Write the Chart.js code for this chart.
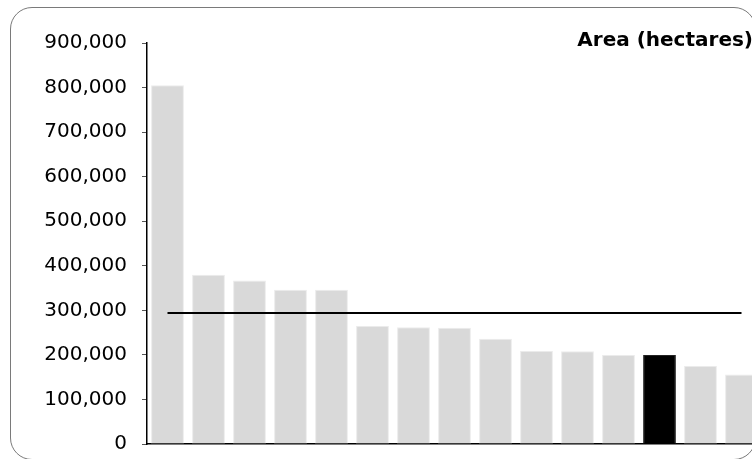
<!DOCTYPE html>
<html>
<head>
<meta charset="utf-8">
<script src="https://cdn.jsdelivr.net/npm/chart.js@4"></script>
<style>
  html, body { margin: 0; padding: 0; background: #fff; overflow: hidden; width: 752px; height: 459px; }
  #frame {
    position: absolute; left: 10px; top: 7px; width: 746px; height: 453px;
    border: 1px solid #7a7a7a; border-radius: 22px; box-sizing: border-box;
  }
  #wrap { position: absolute; left: 0; top: 0; width: 770px; height: 471px; }
</style>
</head>
<body>
<div id="frame"></div>
<div id="wrap"><canvas id="chartArea" width="770" height="471"></canvas></div>
<script>
// values
const categories = ["1", "2", "3", "4", "5", "6", "7", "8", "9", "10", "11", "12", "13", "14", "15"];
const areaValues = [805000, 380000, 367000, 346000, 346000, 265000, 262000, 261000, 236000, 209000, 208000, 200000, 200000, 175000, 156000];
const highlightIndex = 12;
const averageValue = 294000;
const yTicks = [0, 100000, 200000, 300000, 400000, 500000, 600000, 700000, 800000, 900000];
const chartTitle = "Area (hectares)";

const barColors = areaValues.map((v, i) => (i == highlightIndex ? "#000000" : "#d9d9d9"));
const barBorders = areaValues.map((v, i) => (i == highlightIndex ? "#222222" : "#ebebeb"));

const titlePlugin = {
  id: "cornerTitle",
  afterDraw: function (chart) {
    let ctx = chart.ctx;
    ctx.save();
    ctx.font = "bold 20px 'DejaVu Sans'";
    ctx.fillStyle = "#000";
    ctx.textAlign = "right";
    ctx.textBaseline = "alphabetic";
    ctx.fillText(chartTitle, 753, 45.5);
    ctx.restore();
  },
};

var ch = document.getElementById("chartArea");
var chart = new Chart(ch, {
  type: "bar",
  data: {
    labels: categories,
    datasets: [
      {
        type: "line",
        data: [
          { x: categories[0], y: averageValue },
          { x: categories[categories.length - 1], y: averageValue },
        ],
        borderColor: "#000",
        borderWidth: 2,
        pointRadius: 0,
        order: 0,
      },
      {
        data: areaValues,
        backgroundColor: barColors,
        borderColor: barBorders,
        borderWidth: 1,
        barPercentage: 0.8,
        categoryPercentage: 1,
        order: 1,
      },
    ],
  },
  options: {
    responsive: false,
    animation: false,
    devicePixelRatio: 1,
    layout: { padding: { left: 0, right: 8, top: 43, bottom: 4 } },
    plugins: { legend: { display: false }, tooltip: { enabled: false } },
    scales: {
      x: {
        grid: { display: false },
        ticks: { display: false },
        border: { display: true, color: "#000", width: 1.5 },
        afterFit: function (scale) {
          scale.height = 0;
        },
      },
      y: {
        min: 0,
        max: 900000,
        afterBuildTicks: function (scale) {
          scale.ticks = yTicks.map((v) => ({ value: v }));
        },
        grid: { drawOnChartArea: false, tickLength: 5, color: "#555" },
        border: { display: true, color: "#000", width: 1.5 },
        ticks: {
          autoSkip: false,
          padding: 15,
          color: "#000",
          font: { family: "'DejaVu Sans'", size: 20 },
          callback: function (v) {
            return v.toLocaleString("en-US");
          },
        },
        afterFit: function (scale) {
          scale.width = 147;
        },
      },
    },
  },
  plugins: [titlePlugin],
});
</script>
</body>
</html>
